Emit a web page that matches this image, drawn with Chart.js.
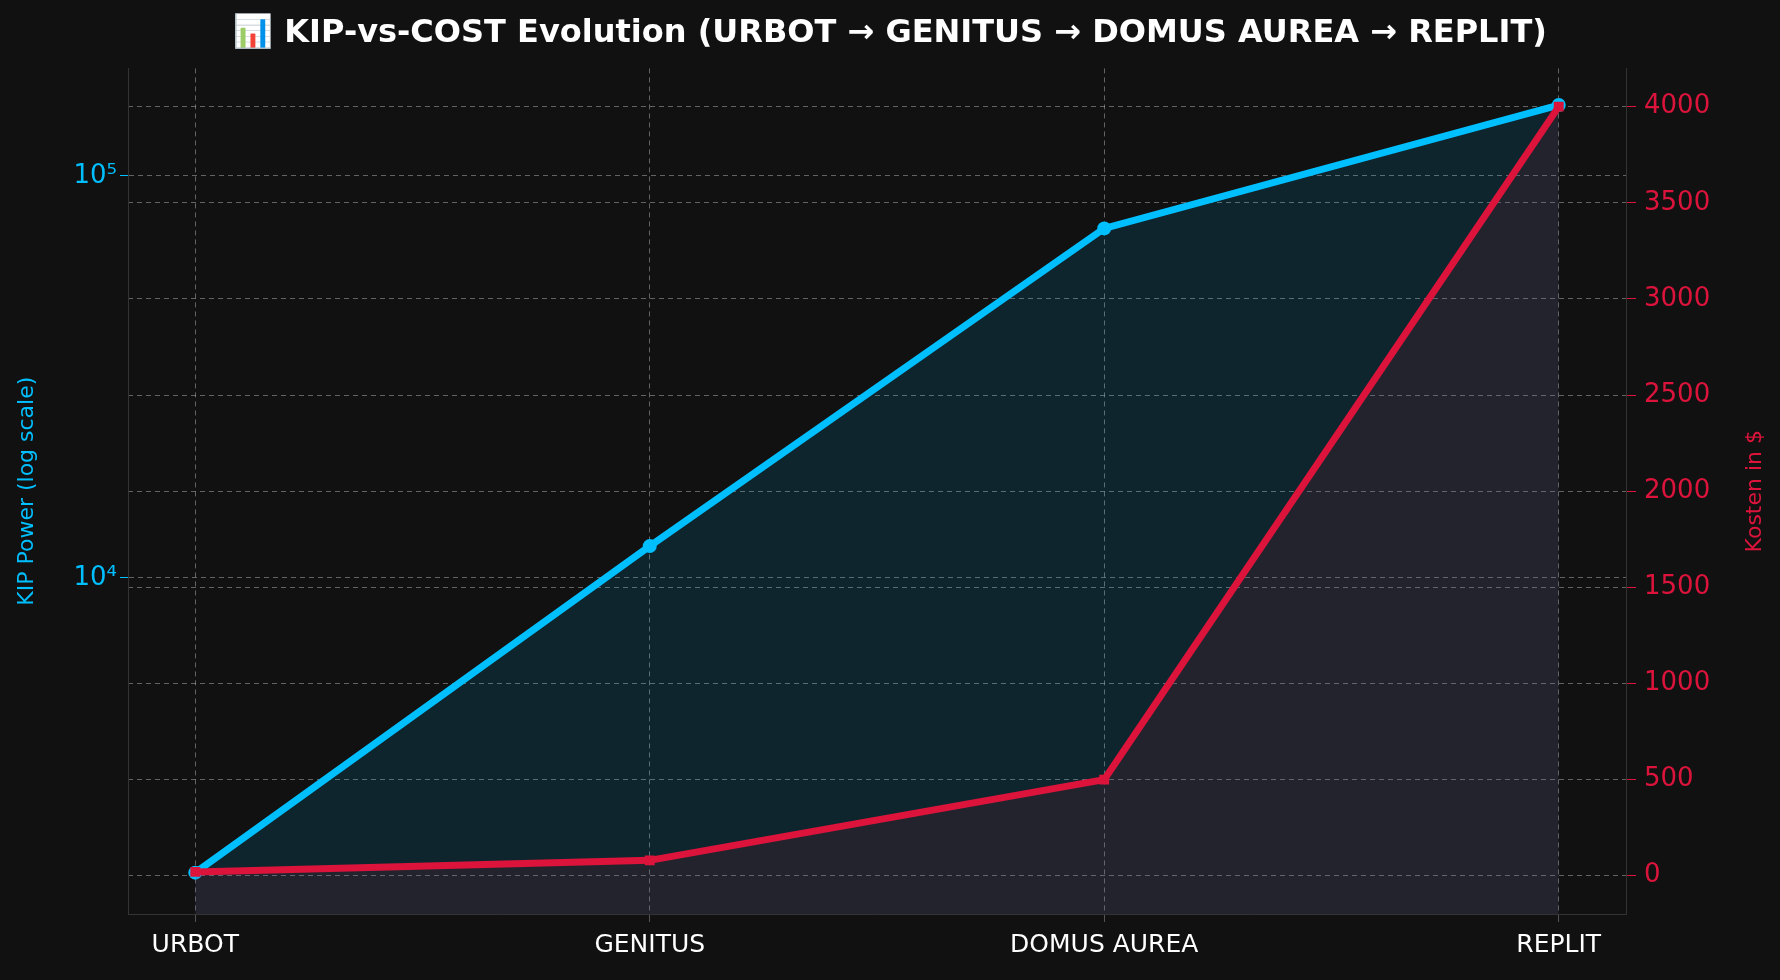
<!DOCTYPE html>
<html><head><meta charset="utf-8">
<script src="https://cdn.jsdelivr.net/npm/chart.js@4"></script>
<style>html,body{margin:0;background:#111111;}canvas{display:block}</style>
</head><body>
<canvas id="c" width="1780" height="980"></canvas>
<script>
const categories = ["URBOT","GENITUS","DOMUS AUREA","REPLIT"];
const kipPower = [1850, 12000, 74000, 150000];
const costs = [20, 80, 500, 4000];
const logTicks = [10000, 100000];
const costTicks = [0,500,1000,1500,2000,2500,3000,3500,4000];

const BLUE = '#00BFFF', RED = '#DC143C';
const gridCol = 'rgba(200,200,200,0.45)';
const font = "'DejaVu Sans', sans-serif";

const rightTitle = {
  id:'rightTitle',
  afterDraw(chart){
    const ctx=chart.ctx, a=chart.chartArea;
    ctx.save();
    ctx.translate(1755,(a.top+a.bottom)/2);
    ctx.rotate(-Math.PI/2);
    ctx.fillStyle=RED; ctx.font="22px "+font; ctx.textAlign='center'; ctx.textBaseline='middle';
    ctx.fillText('Kosten in $',0,0);
    ctx.restore();
  }
};

new Chart(document.getElementById('c'), {
  type: 'line',
  plugins:[rightTitle],
  data: { datasets: [
    { label:'KIP', data: kipPower.map((v,i)=>({x:i,y:v})), yAxisID:'yL',
      borderColor:BLUE, backgroundColor:'rgba(0,191,255,0.12)', fill:'start',
      borderWidth:7, pointRadius:7, pointBackgroundColor:BLUE, pointBorderWidth:0, tension:0, order:1 },
    { label:'Kosten', data: costs.map((v,i)=>({x:i,y:v})), yAxisID:'yR',
      borderColor:RED, backgroundColor:'rgba(220,20,60,0.10)', fill:'start',
      borderWidth:7, pointStyle:'rect', pointRadius:7, pointBackgroundColor:RED, pointBorderWidth:0, tension:0, order:0 }
  ]},
  options: {
    responsive:false, animation:false,
    layout:{padding:{top:0,bottom:12,left:10,right:10}},
    plugins:{ legend:{display:false}, tooltip:{enabled:false},
      title:{display:true, text:'📊 KIP-vs-COST Evolution (URBOT → GENITUS → DOMUS AUREA → REPLIT)',
        color:'#ffffff', font:{family:font, size:32, weight:'bold'}, padding:{top:14,bottom:16}} },
    scales:{
      x:{ type:'linear', min:-0.148, max:3.148,
        afterBuildTicks:s=>{s.ticks=categories.map((c,i)=>({value:i}));},
        ticks:{ color:'#ffffff', font:{family:font,size:25}, callback:v=>categories[v], padding:8, autoSkip:false, maxRotation:0 },
        grid:{ color:gridCol, drawTicks:true, tickColor:'#555' },
        border:{color:'#333', dash:[5,4]} },
      yL:{ type:'logarithmic', position:'left', min:1460, max:185000,
        afterBuildTicks:s=>{s.ticks=logTicks.map(v=>({value:v}));},
        afterFit:s=>{s.width=118;},
        ticks:{ color:BLUE, font:{family:font,size:26}, callback:v=>v===10000?'10⁴':'10⁵' },
        title:{display:true, text:'KIP Power (log scale)', color:BLUE, font:{family:font,size:22}},
        grid:{ color:gridCol, tickColor:BLUE },
        border:{color:'#333', dash:[5,4]} },
      yR:{ type:'linear', position:'right', min:-199, max:4199,
        afterBuildTicks:s=>{s.ticks=costTicks.map(v=>({value:v}));},
        afterFit:s=>{s.width=144;},
        ticks:{ color:RED, font:{family:font,size:26}, padding:8, callback:v=>String(v) },
        grid:{ color:gridCol, tickColor:RED, tickLength:10 },
        border:{color:'#333', dash:[5,4]} }
    }
  }
});
</script>
</body></html>
